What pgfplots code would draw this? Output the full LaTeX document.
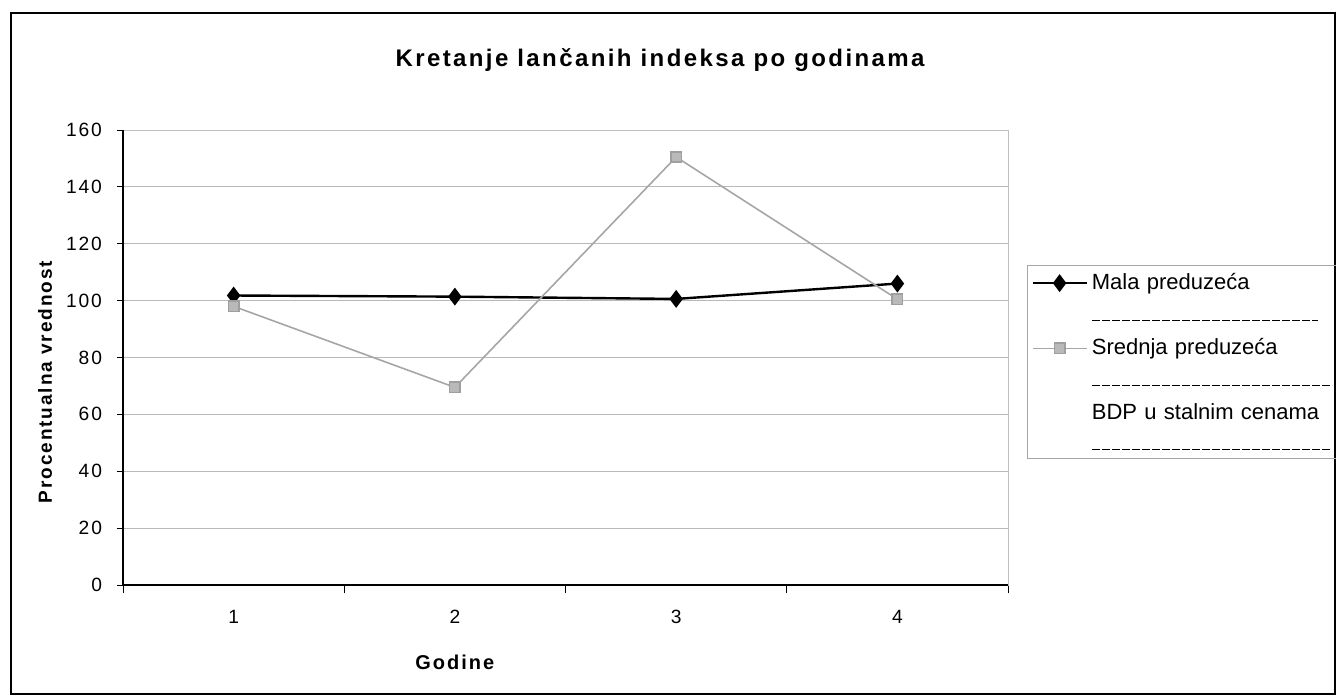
\documentclass[border=0pt]{standalone}
\usepackage{pgfplots}
\pgfplotsset{compat=1.18}
\usepackage{fontspec}
\setmainfont{Liberation Sans}
\begin{document}
\begin{tikzpicture}
\useasboundingbox (0pt,0pt) rectangle (668pt,-347.5pt);
\draw[black, line width=0.9pt] (5.5pt,-6.5pt) rectangle (667.5pt,-347pt);
\node[font=\fontsize{12}{14}\selectfont\bfseries\addfontfeatures{LetterSpace=10}] at (330pt,-30pt) {Kretanje lančanih indeksa po godinama};
\draw[gray!70, line width=0.5pt] (513.5pt,-132.5pt) rectangle (668pt,-229pt);
\begin{axis}[
  at={(61.5pt,-292.5pt)}, anchor=south west,
  scale only axis, width=442.5pt, height=227.5pt,
  xmin=0.5, xmax=4.5, ymin=0, ymax=160,
  xtick={1,2,3,4},
  minor xtick={0.5,1.5,2.5,3.5,4.5},
  ytick={0,20,...,160},
  tick align=outside,
  major x tick style={draw=none},
  minor tick length=4pt,
  major tick length=3pt,
  tick style={black, line width=0.4pt},
  xtick pos=bottom, ytick pos=left,
  ymajorgrids,
  grid style={gray!55, line width=0.5pt},
  axis line style={gray!50, line width=0.4pt},
  ticklabel style={font=\fontsize{9.6}{11}\selectfont\addfontfeatures{LetterSpace=10}},
  /pgf/number format/assume math mode=true,
  yticklabel style={xshift=-4pt},
  xticklabel style={yshift=-6pt},
  xlabel={Godine},
  ylabel={Procentualna vrednost},
  xlabel style={font=\fontsize{10}{12}\selectfont\bfseries\addfontfeatures{LetterSpace=10}, at={(axis description cs:0.375,-0.171)}, anchor=center},
  ylabel style={font=\fontsize{9.5}{11}\selectfont\bfseries\addfontfeatures{LetterSpace=10}, at={(axis description cs:-0.088,0.446)}, anchor=center},
  legend style={at={(axis description cs:1.0215,0.703)}, anchor=north west,
    draw=none, fill=none, font=\fontsize{11}{13}\selectfont,
    inner sep=2pt, row sep=19pt,
    text width=122pt, legend cell align=left},
  legend image code/.code={\draw[#1] (0pt,0pt) -- (27pt,0pt); \draw[#1] plot coordinates {(13.5pt,0pt)};},
  clip=false,
]
\draw[black, line width=0.6pt] (rel axis cs:0,1) -- (rel axis cs:0,0) -- (rel axis cs:1,0);
\addplot[black, line width=1.2pt, mark=diamond*, mark size=3.5pt, mark options={fill=black}]
  coordinates {(1,101.8) (2,101.4) (3,100.6) (4,106)};
\addplot[gray!70, line width=0.8pt, mark=square*, mark size=2.6pt, mark options={fill=gray!55, draw=gray!75}]
  coordinates {(1,98) (2,69.5) (3,150.5) (4,100.5)};
\addlegendimage{white}
\legend{Mala preduzeća, Srednja preduzeća, BDP u stalnim cenama}
\end{axis}
\foreach \y/\e in {-160/659,-192.5/666,-224.5/665} {\draw[black, dash pattern=on 4pt off 1pt, line width=0.5pt] (546pt,\y pt) -- (\e pt,\y pt);}
\end{tikzpicture}
\end{document}
